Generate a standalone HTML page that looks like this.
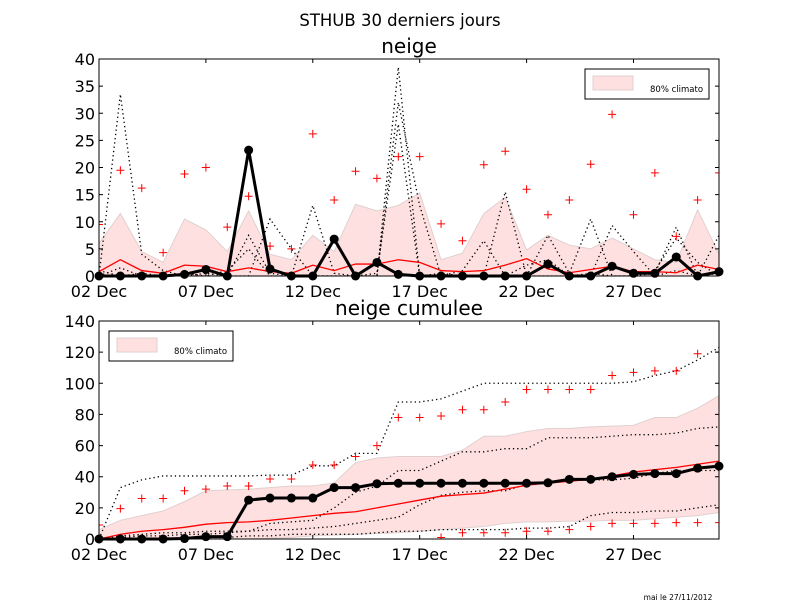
<!DOCTYPE html>
<html><head><meta charset="utf-8">
<style>
body{margin:0;background:#fff;}
svg{display:block;font-family:"DejaVu Sans","Liberation Sans",sans-serif;}
</style></head>
<body>
<svg id="chart" width="800" height="600" viewBox="0 0 800 600" xmlns="http://www.w3.org/2000/svg">
<text x="400" y="26" font-size="16.5" text-anchor="middle">STHUB 30 derniers jours</text>
<text x="678" y="600" font-size="7.5" text-anchor="middle">mai le 27/11/2012</text>
</svg>
<script>
const dayLabels = ["02 Dec","07 Dec","12 Dec","17 Dec","22 Dec","27 Dec"];
const dayTickIdx = [0,5,10,15,20,25];
// daily snow
const dObs = [0,0,0,0,0.3,1.2,0,23.2,1.3,0,0,6.8,0,2.5,0.3,0,0,0,0,0,0,2.2,0,0,1.8,0.5,0.5,3.5,0,0.8];
const dMed = [0.8,3,1,0.5,2,1.8,0.8,1.5,0.8,0.5,2,1,2.2,2.2,3,2.5,1,0.8,1,2,3.2,1.3,0.6,1.2,1.8,0.8,0.8,0.6,2,1.2];
const dBandHi = [6,11.5,4.5,2.5,10.5,8.5,4.5,12,4,3,7.5,4.5,13.2,12,13,15.3,3,4.2,11.5,14.5,4.8,7.5,5.7,5,7,5,3,2.5,12.2,4];
const dBandLo = [0,0,0,0,0,0,0,0,0,0,0,0,0,0,0,0,0,0,0,0,0,0,0,0,0,0,0,0,0,0];
const dMax = [9.5,19.5,16.2,4.3,18.8,20,9,14.7,5.5,5,26.2,14,19.3,18,22,22,9.6,6.5,20.5,23,16,11.3,14,20.6,29.8,11.3,19,7.3,14,19];
const dMem1 = [0,33.5,4,1,0,0.5,0,7.5,0.5,0,13,0.5,0,0,38.5,0,0.5,0,0,15.5,0,7.5,0.5,10.5,0,0,0.5,9,0,7.5];
const dMem2 = [1,0,0.5,0,0.5,0,0,0,10.5,5,0,0,0,0,32,13,0,1,6.5,0,2,3,0,0,9.3,4.5,0,1,0,0.5];
const dMem3 = [0,1.5,0,0,0,0,1,5,0,0,0,0,0,0.5,28,0,0,0,0,0,0,0,0,0.5,0,0,1,7,2.5,0];
const dTicks = [0,5,10,15,20,25,30,35,40];
// cumulative snow
const cObs = [0,0,0,0,0.3,1.5,1.5,25,26.3,26.3,26.3,33,33,35.5,35.8,35.8,35.8,35.8,35.8,35.8,35.8,36.1,38.3,38.3,40,41.5,42,42,45.5,46.8];
const cMed = [0,3,5,6,7.5,9.5,10.5,11,12,13.5,15,16.5,17.5,20,22.5,25,27.5,28.5,29.5,32,34.5,36,37,38.5,40.5,43,44.5,46,48,50];
const cBandHi = [6,12,15,18,24,31,31.5,32,33,34,34,36,49,52,53,53,53,57,66,66,69,71,71,72,72.5,73,78,78,84,92];
const cBandLo = [0,0,0,0,0,0,0,0,0.5,1,2,2.5,3,3.5,4,5,6,7,8,10,11,11,11.5,11.5,12,12,13,14,15,17];
const cMax = [9,19.5,26,26,31,32,34,34,38.5,38.5,47.5,47.5,53,60,78,78,79,83,83,88,96,96,96,96,105,107,108,108,119,120];
const cMin = [null,null,null,null,null,null,null,null,null,null,null,null,null,null,null,null,1,4,4,4,5,5,6,8,10,10,10,10.5,10.5,10.5];
const cMem1 = [0,33,38,40.5,40.5,40.5,40.5,40.5,41,41,47,47,55,55,88,88,90,95,100,100,100,100,100,100,100,101,105,108,115,123];
const cMem2 = [0,2,3,4,4,5,5,5,10,11,12,20,30,34,44,44,50,56,56,58,58,65,65,65,66,67,67,68,71,72];
const cMem3 = [0,1,2,2,3,3,4,5,6,6,7,8,10,12,14,22,28,30,31,31,35,37,38,38,38,39,42,44,44,44];
const cMem4 = [0,0,0,0,1,1,1,2,2,3,3,3,3,4,5,5,6,6,6,6,7,7,8,15,17,17,18,18,20,22];
const cTicks = [0,20,40,60,80,100,120,140];

const NS="http://www.w3.org/2000/svg";
const svg=document.getElementById('chart');
function mk(tag,attrs,parent){const e=document.createElementNS(NS,tag);for(const k in attrs)e.setAttribute(k,attrs[k]);(parent||svg).appendChild(e);return e;}

function panel(cfg){
  const L=99,R=719,T=cfg.top,B=cfg.bottom,n=30;
  const x=i=>L+i*(R-L)/(n-1);
  const y=v=>B-(v-0)*(B-T)/cfg.ymax;
  const g=mk('g',{});
  
  
  const clipId=cfg.name+'-clip';
  const cp=mk('clipPath',{id:clipId},g);mk('rect',{x:L,y:T,width:R-L,height:B-T},cp);
  const inner=mk('g',{'clip-path':'url(#'+clipId+')'},g);
  let pts=[];
  cfg.hi.forEach((v,i)=>pts.push(x(i)+','+y(v)));
  for(let i=n-1;i>=0;i--)pts.push(x(i)+','+y(cfg.lo[i]));
  const band=mk('polygon',{points:pts.join(' '),fill:'#ffe0e0',stroke:'#e0d0d0','stroke-width':1},inner);
  
  
  cfg.mems.forEach((m,k)=>{
    const pl=mk('polyline',{points:m.map((v,i)=>x(i)+','+y(v)).join(' '),fill:'none',stroke:'#000','stroke-width':1.3,'stroke-dasharray':'1.3,3'},inner);
    
    
  });
  cfg.plus.forEach((arr,k)=>{
    arr.forEach((v,i)=>{
      if(v===null)return;
      const p=mk('path',{d:`M${x(i)-4},${y(v)}h8M${x(i)},${y(v)-4}v8`,stroke:'#f00','stroke-width':1},inner);
      
      
    });
  });
  const med=mk('polyline',{points:cfg.med.map((v,i)=>x(i)+','+y(v)).join(' '),fill:'none',stroke:'#f00','stroke-width':1.3},inner);
  
  
  const obs=mk('polyline',{points:cfg.obs.map((v,i)=>x(i)+','+y(v)).join(' '),fill:'none',stroke:'#000','stroke-width':3,'stroke-linejoin':'round'},g);
  
  
  cfg.obs.forEach((v,i)=>{
    const c=mk('circle',{cx:x(i),cy:y(v),r:4.5,fill:'#000'},g);
    
    
  });
  const fr=mk('rect',{x:L,y:T,width:R-L,height:B-T,fill:'none',stroke:'#000','stroke-width':1},g);
  
  
  cfg.ticks.forEach(t=>{
    mk('path',{d:`M${L},${y(t)}h4M${R},${y(t)}h-4`,stroke:'#000'},g);
    const tx=mk('text',{x:L-4,y:y(t)+6,'font-size':16,'text-anchor':'end'},g);
    tx.textContent=t;
    
    
  });
  dayTickIdx.forEach((d,k)=>{
    mk('path',{d:`M${x(d)},${B}v-4M${x(d)},${T}v4`,stroke:'#000'},g);
    const tx=mk('text',{x:x(d),y:B+21,'font-size':16,'text-anchor':'middle'},g);
    tx.textContent=dayLabels[k];
    
    
  });
  const ti=mk('text',{x:409,y:T-6,'font-size':20,'text-anchor':'middle'},g);
  ti.textContent=cfg.title;
  
  
  const lg=mk('g',{},g);
  
  
  const lx=cfg.legX,ly=cfg.legY;
  mk('rect',{x:lx,y:ly,width:124,height:30,fill:'#fff',stroke:'#000','stroke-width':1},lg);
  mk('rect',{x:lx+8,y:ly+7,width:40,height:14,fill:'#ffe0e0',stroke:'#e0d0d0'},lg);
  const lt=mk('text',{x:lx+65,y:ly+23,'font-size':8.5},lg);
  lt.textContent='80% climato';
}
panel({name:'daily-snow-panel',title:'neige',top:59,bottom:276,ymax:40,ticks:dTicks,obs:dObs,med:dMed,hi:dBandHi,lo:dBandLo,plus:[dMax],mems:[dMem1,dMem2,dMem3],legX:585,legY:69});
panel({name:'cumulative-snow-panel',title:'neige cumulee',top:321,bottom:539,ymax:140,ticks:cTicks,obs:cObs,med:cMed,hi:cBandHi,lo:cBandLo,plus:[cMax,cMin],mems:[cMem1,cMem2,cMem3,cMem4],legX:109,legY:331});
</script>
</body></html>
